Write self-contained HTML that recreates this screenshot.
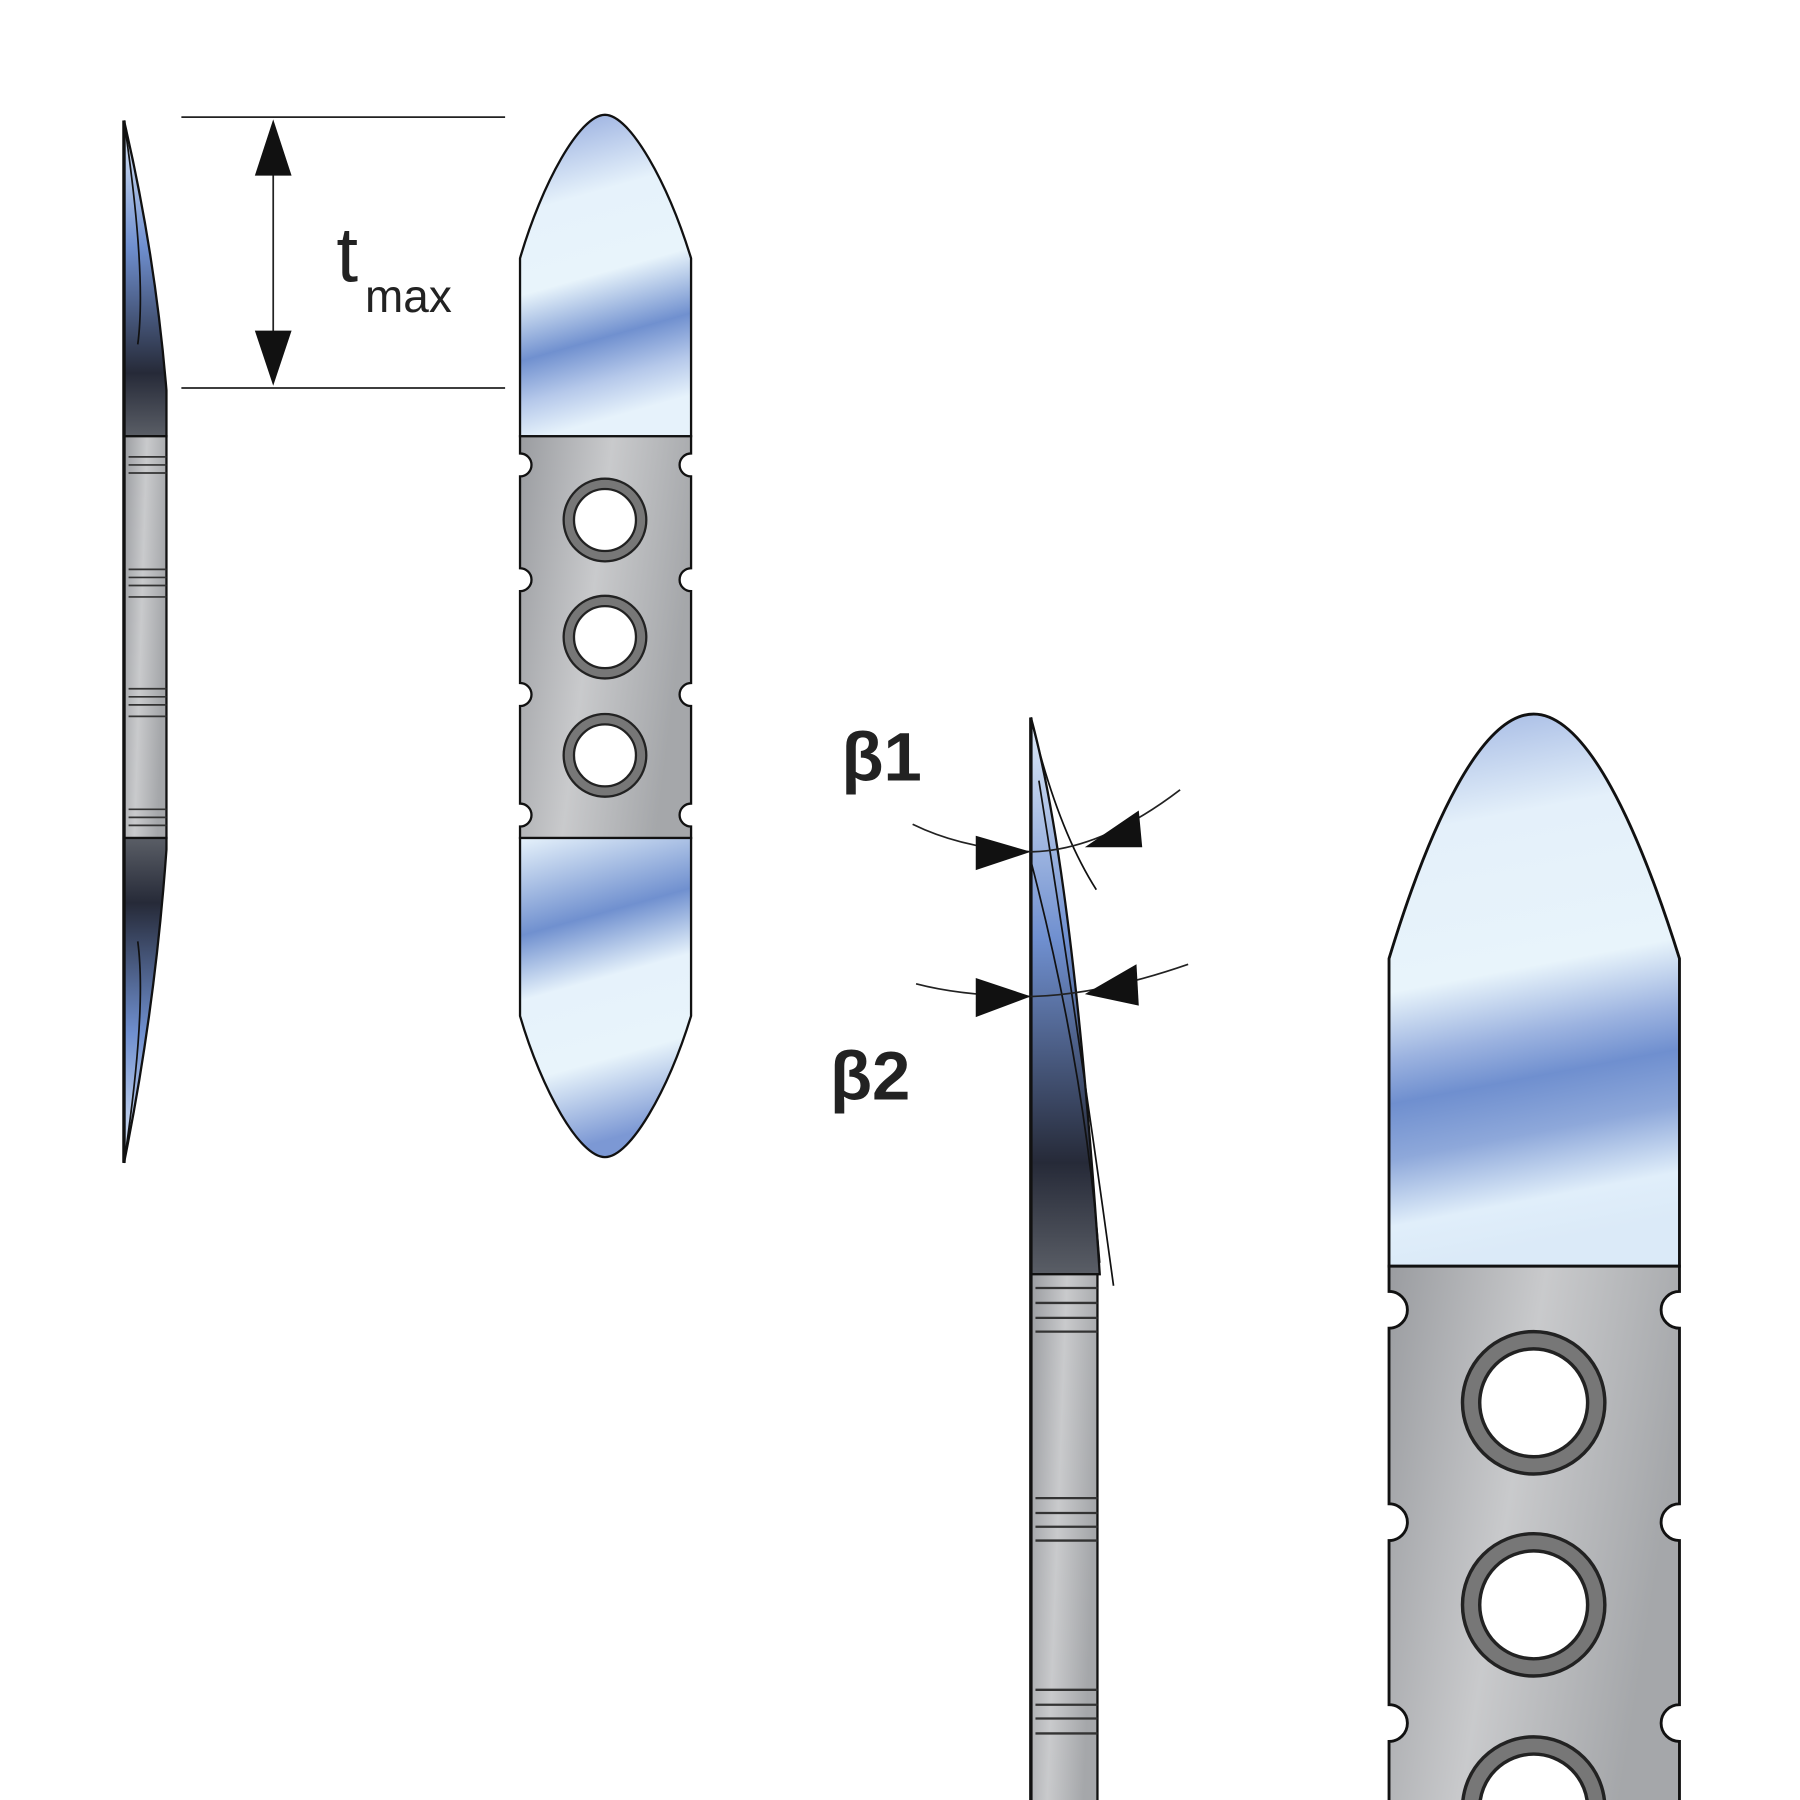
<!DOCTYPE html>
<html><head><meta charset="utf-8"><style>html,body{margin:0;padding:0;background:#fff}svg{display:block}</style></head>
<body>
<svg width="1800" height="1800" viewBox="0 0 1568 1568" xmlns="http://www.w3.org/2000/svg">
<defs>
<linearGradient id="b1" x1="0" y1="0" x2="0.15" y2="1">
<stop offset="0" stop-color="#8fa6dc"/><stop offset="0.3" stop-color="#e6f2fb"/><stop offset="0.55" stop-color="#e8f4fb"/><stop offset="0.75" stop-color="#7090cf"/><stop offset="0.88" stop-color="#b5c8ea"/><stop offset="1" stop-color="#e6f2fb"/></linearGradient>
<linearGradient id="b2" x1="0" y1="0" x2="0.15" y2="1">
<stop offset="0" stop-color="#e6f2fb"/><stop offset="0.3" stop-color="#7090cf"/><stop offset="0.5" stop-color="#e6f2fb"/><stop offset="0.75" stop-color="#e8f4fb"/><stop offset="1" stop-color="#7c98d4"/></linearGradient>
<linearGradient id="b3" x1="0" y1="0" x2="0.1" y2="1">
<stop offset="0" stop-color="#9fb5e2"/><stop offset="0.22" stop-color="#e4f0fa"/><stop offset="0.5" stop-color="#e8f4fb"/><stop offset="0.62" stop-color="#9cb3e0"/><stop offset="0.7" stop-color="#6f8fcf"/><stop offset="0.8" stop-color="#8ea8da"/><stop offset="0.92" stop-color="#e0eefa"/><stop offset="1" stop-color="#dbeaf8"/></linearGradient>
<linearGradient id="g" x1="0" y1="0" x2="1" y2="0.3">
<stop offset="0" stop-color="#9a9ca0"/><stop offset="0.5" stop-color="#c9cacc"/><stop offset="1" stop-color="#a5a7aa"/></linearGradient>
<linearGradient id="dk" x1="0" y1="0" x2="0" y2="1">
<stop offset="0" stop-color="#dfeaf8"/><stop offset="0.4" stop-color="#6f8fcf"/><stop offset="0.8" stop-color="#262a38"/><stop offset="1" stop-color="#5a5e66"/></linearGradient>
<linearGradient id="dk2" x1="0" y1="1" x2="0" y2="0">
<stop offset="0" stop-color="#dfeaf8"/><stop offset="0.4" stop-color="#6f8fcf"/><stop offset="0.8" stop-color="#262a38"/><stop offset="1" stop-color="#5a5e66"/></linearGradient>
</defs>
<g stroke="#111" stroke-width="2">
<path d="M108,105 Q135,220 145,340 L145,380 L108,380 Z" fill="url(#dk)"/>
<rect x="108" y="380" width="37" height="350" fill="url(#g)"/>
<path d="M108,730 L145,730 L145,740 Q135,880 108,1013 Z" fill="url(#dk2)"/>
<path d="M108,105 Q128,240 120,300 M108,1013 Q128,880 120,820" fill="none" stroke-width="1.5"/>
<line x1="108" y1="105" x2="108" y2="1013" stroke-width="3"/>
</g>
<g stroke="#333" stroke-width="1.5">
<line x1="112" y1="398" x2="145" y2="398"/><line x1="112" y1="405" x2="145" y2="405"/><line x1="112" y1="412" x2="145" y2="412"/>
<line x1="112" y1="496" x2="145" y2="496"/><line x1="112" y1="503" x2="145" y2="503"/><line x1="112" y1="510" x2="145" y2="510"/><line x1="112" y1="520" x2="145" y2="520"/>
<line x1="112" y1="600" x2="145" y2="600"/><line x1="112" y1="607" x2="145" y2="607"/><line x1="112" y1="614" x2="145" y2="614"/><line x1="112" y1="624" x2="145" y2="624"/>
<line x1="112" y1="705" x2="145" y2="705"/><line x1="112" y1="712" x2="145" y2="712"/><line x1="112" y1="719" x2="145" y2="719"/>
</g>
<g stroke="#222" stroke-width="1.5">
<line x1="158" y1="102" x2="440" y2="102"/><line x1="158" y1="338" x2="440" y2="338"/>
<line x1="238" y1="140" x2="238" y2="300"/>
</g>
<polygon points="238,104 222,153 254,153" fill="#111"/>
<polygon points="238,336 222,288 254,288" fill="#111"/>
<text x="293" y="245" font-family="Liberation Sans, sans-serif" font-size="68" fill="#222">t</text>
<text x="318" y="272" font-family="Liberation Sans, sans-serif" font-size="40" fill="#222">max</text>
<g stroke="#111" stroke-width="2">
<path d="M453,380 L453,225 C472,160 505,100 527,100 C549,100 582,160 602,225 L602,380 Z" fill="url(#b1)"/>
<path d="M453,380 L602,380 L602,395 A10,10 0 0 0 602,415 L602,495 A10,10 0 0 0 602,515 L602,595 A10,10 0 0 0 602,615 L602,700 A10,10 0 0 0 602,720 L602,730 L453,730 L453,720 A10,10 0 0 0 453,700 L453,615 A10,10 0 0 0 453,595 L453,515 A10,10 0 0 0 453,495 L453,415 A10,10 0 0 0 453,395 Z" fill="url(#g)"/>
<path d="M453,730 L602,730 L602,885 C582,950 549,1008 527,1008 C505,1008 472,950 453,885 Z" fill="url(#b2)"/>
</g>
<g fill="#fff" stroke="#222" stroke-width="2">
<circle cx="527" cy="453" r="36" fill="#777"/><circle cx="527" cy="453" r="27"/>
<circle cx="527" cy="555" r="36" fill="#777"/><circle cx="527" cy="555" r="27"/>
<circle cx="527" cy="658" r="36" fill="#777"/><circle cx="527" cy="658" r="27"/>
</g>
<g stroke="#111" stroke-width="2">
<path d="M898,625 Q935,760 958,1110 L898,1110 Z" fill="url(#dk)"/>
<rect x="898" y="1110" width="58" height="460" fill="url(#g)"/>
<path d="M898,625 Q920,720 955,775 M905,680 Q940,900 970,1120 M898,750 Q945,930 958,1100" fill="none" stroke-width="1.5"/>
<line x1="898" y1="625" x2="898" y2="1568" stroke-width="3"/>
</g>
<g stroke="#333" stroke-width="2">
<line x1="902" y1="1122" x2="956" y2="1122"/><line x1="902" y1="1135" x2="956" y2="1135"/><line x1="902" y1="1148" x2="956" y2="1148"/><line x1="902" y1="1160" x2="956" y2="1160"/>
<line x1="902" y1="1305" x2="956" y2="1305"/><line x1="902" y1="1318" x2="956" y2="1318"/><line x1="902" y1="1330" x2="956" y2="1330"/><line x1="902" y1="1342" x2="956" y2="1342"/>
<line x1="902" y1="1472" x2="956" y2="1472"/><line x1="902" y1="1485" x2="956" y2="1485"/><line x1="902" y1="1497" x2="956" y2="1497"/><line x1="902" y1="1510" x2="956" y2="1510"/>
</g>
<g fill="none" stroke="#222" stroke-width="1.5">
<path d="M795,718 Q840,740 900,742 Q960,740 1028,688"/>
<path d="M798,857 Q840,868 900,868 Q960,866 1035,840"/>
</g>
<polygon points="898,742 850,728 850,758" fill="#111"/>
<polygon points="945,738 992,706 995,738" fill="#111"/>
<polygon points="898,868 850,852 850,886" fill="#111"/>
<polygon points="945,866 990,840 992,876" fill="#111"/>
<text x="733" y="680" font-family="Liberation Sans, sans-serif" font-weight="bold" font-size="60" fill="#222">β1</text>
<text x="723" y="958" font-family="Liberation Sans, sans-serif" font-weight="bold" font-size="60" fill="#222">β2</text>
<g stroke="#111" stroke-width="2.5">
<path d="M1210,1103 L1210,835 C1245,720 1290,622 1336,622 C1382,622 1427,720 1463,835 L1463,1103 Z" fill="url(#b3)"/>
<path d="M1210,1103 L1463,1103 L1463,1125 A15,15 0 0 0 1463,1157 L1463,1310 A15,15 0 0 0 1463,1342 L1463,1485 A15,15 0 0 0 1463,1517 L1463,1570 L1210,1570 L1210,1517 A15,15 0 0 0 1210,1485 L1210,1342 A15,15 0 0 0 1210,1310 L1210,1157 A15,15 0 0 0 1210,1125 Z" fill="url(#g)"/>
</g>
<g fill="#fff" stroke="#222" stroke-width="3">
<circle cx="1336" cy="1222" r="62" fill="#777"/><circle cx="1336" cy="1222" r="47"/>
<circle cx="1336" cy="1398" r="62" fill="#777"/><circle cx="1336" cy="1398" r="47"/>
<circle cx="1336" cy="1575" r="62" fill="#777"/><circle cx="1336" cy="1575" r="47"/>
</g>
</svg>
</body></html>
